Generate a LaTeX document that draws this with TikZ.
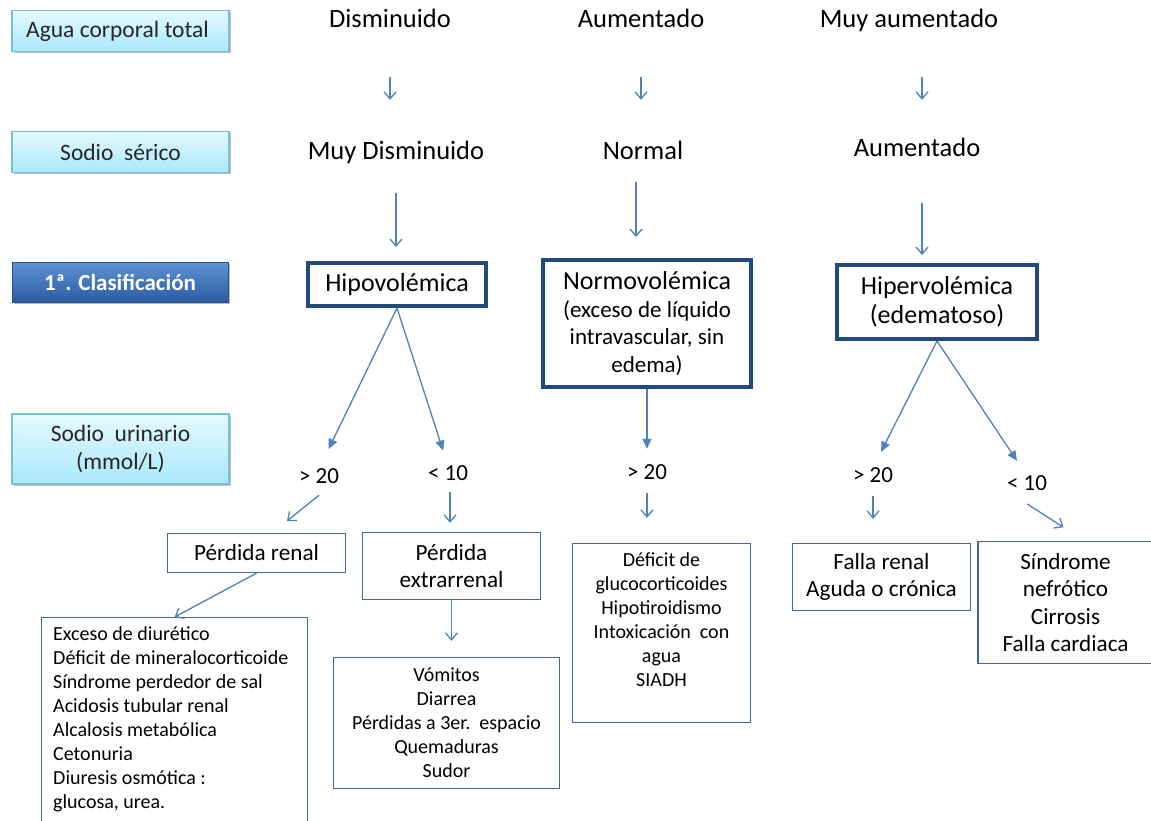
\documentclass[tikz,border=0pt]{standalone}
\usepackage{fontspec}
\setmainfont{Carlito}
\usetikzlibrary{arrows.meta,shadows}
\definecolor{arrblue}{HTML}{4F81BD}
\definecolor{thinline}{HTML}{41669A}
\definecolor{thickline}{HTML}{234A7D}
\definecolor{cyantop}{HTML}{E6F9FF}
\definecolor{cyanbot}{HTML}{A9E8FC}
\definecolor{cyanline}{HTML}{78BFD6}
\definecolor{darktop}{HTML}{5E93D6}
\definecolor{darkbot}{HTML}{2B5C9F}
\definecolor{darkline}{HTML}{24508C}
\newcommand\fsz[2]{\fontsize{#1}{#2}\selectfont}
\begin{document}
\begin{tikzpicture}[x=1pt,y=-1pt,
  shad/.style={drop shadow={shadow xshift=1.5pt, shadow yshift=-2pt, fill=black, opacity=0.25}},
  sidelab/.style={shad, draw=cyanline, line width=1.3pt, top color=cyantop, bottom color=cyanbot, minimum width=217pt, inner sep=0pt, align=center, font=\fsz{23.5}{28}, text=black!85},
  darklab/.style={shad, draw=darkline, line width=1pt, top color=darktop, bottom color=darkbot, minimum width=216pt, minimum height=40pt, inner sep=0pt, font=\fsz{23}{27}\bfseries, text=white},
  coltext/.style={anchor=base, inner sep=0pt, text height=17pt, text depth=5pt, font=\fsz{26.5}{30}},
  natext/.style={anchor=base, inner sep=0pt, text height=14pt, text depth=4pt, font=\fsz{23}{26}},
  volbox/.style={draw=thickline, line width=4pt, fill=white, align=center, inner sep=0pt, font=\fsz{26}{29}},
  thinbox/.style={draw=thinline, line width=1.3pt, align=center, inner sep=0pt, font=\fsz{23.2}{27.5}},
  listtext/.style={inner sep=0pt, font=\fsz{20}{24}},
  bigarr/.style={draw=arrblue, line width=1.3pt, -{Triangle[length=10pt,width=9pt]}},
  smallarr/.style={draw=arrblue, line width=1.3pt, -{Straight Barb[length=7pt,width=12pt]}}
]
\useasboundingbox (0,0) rectangle (1151,821);

% side labels
\node[sidelab, minimum height=41pt] (agua) at (120.5,31) {Agua corporal total\hspace*{6pt}};
\node[sidelab, minimum height=41pt] (sodio) at (120.5,152) {Sodio\ \ sérico};
\node[darklab] (clas) at (120,282) {1ª. Clasificación};
\node[sidelab, minimum height=70pt] (urin) at (120.5,449) {Sodio\ \ urinario\\(mmol/L)};

% column texts
\node[coltext] (dis) at (390,28) {Disminuido};
\node[coltext] (aum1) at (641,28) {Aumentado};
\node[coltext] (muyaum) at (909,28) {Muy aumentado};
\node[coltext] (muydis) at (396,160) {Muy Disminuido};
\node[coltext] (normal) at (643,160) {Normal};
\node[coltext] (aum2) at (917,157) {Aumentado};

% volume boxes
\node[volbox, minimum width=178pt, minimum height=43pt] (hipo) at (397,284.5) {Hipovolémica};
\node[volbox, font=\fsz{23}{27.5}, minimum width=208pt, minimum height=127pt] (normo) at (647,323.5) {{\fsz{26}{27.5}Normovolémica}\\(exceso de líquido\\intravascular, sin\\edema)};
\node[volbox, minimum width=200pt, minimum height=74pt] (hiper) at (937,302) {Hipervolémica\\(edematoso)};

% urinary sodium values
\node[natext] (g20a) at (319,483) {> 20};
\node[natext] (l10a) at (448,480) {< 10};
\node[natext] (g20b) at (647,479) {> 20};
\node[natext] (g20c) at (873,482) {> 20};
\node[natext] (l10c) at (1027,490) {< 10};

% result boxes
\node[thinbox, minimum width=178pt, minimum height=39pt] (renal) at (256.5,553) {Pérdida renal};
\node[thinbox, minimum width=178pt, minimum height=67pt] (extra) at (451.5,566) {Pérdida\\extrarrenal};
\node[thinbox, anchor=north west, minimum width=266pt, minimum height=240pt] (renalBox) at (41,617) {};
\node[listtext, anchor=north west, align=left] (renalList) at (53,626) {Exceso de diurético\\Déficit de mineralocorticoide\\Síndrome perdedor de sal\\Acidosis tubular renal\\Alcalosis metabólica\\Cetonuria\\Diuresis osmótica :\\glucosa, urea.};
\node[thinbox, font=\fsz{20}{24}, minimum width=226pt, minimum height=131pt] (extraList) at (446.5,723) {Vómitos\\Diarrea\\Pérdidas a 3er.\ \ espacio\\Quemaduras\\Sudor};
\node[thinbox, minimum width=178pt, minimum height=179pt] (deficitBox) at (661.5,633) {};
\node[listtext, anchor=north, align=center] (deficitText) at (661.5,552) {Déficit de\\glucocorticoides\\Hipotiroidismo\\Intoxicación\ \ con\\agua\\SIADH};
\node[thinbox, minimum width=178pt, minimum height=67pt] (falla) at (881.5,577) {Falla renal\\Aguda o crónica};
\node[thinbox, minimum width=175pt, minimum height=122pt] (sindrome) at (1065.5,602.5) {Síndrome\\nefrótico\\Cirrosis\\Falla cardiaca};

% arrows row 1
\draw[smallarr, shorten <=44pt, shorten >=43pt] (dis.south) -- (dis.south |- muydis.north);
\draw[smallarr, shorten <=44pt, shorten >=43pt] (aum1.south) -- (aum1.south |- normal.north);
\draw[smallarr, shorten <=44pt, shorten >=40pt] ([xshift=13pt]muyaum.south) -- ([xshift=13pt]muyaum.south |- aum2.north);
% arrows row 2
\draw[smallarr, shorten <=28pt, shorten >=14pt] (muydis.south) -- (muydis.south |- hipo.north);
\draw[smallarr, shorten <=17pt, shorten >=21pt] ([xshift=-7pt]normal.south) -- ([xshift=-7pt]normal.south |- normo.north);
\draw[smallarr, shorten <=41pt, shorten >=8pt] ([xshift=5pt]aum2.south) -- ([xshift=5pt]aum2.south |- hiper.north);
% arrows row 3
\draw[bigarr, shorten >=22pt] (hipo.south) -- (g20a.north);
\draw[bigarr, shorten >=16pt] (hipo.south) -- (l10a.north);
\draw[bigarr, shorten >=16pt] (normo.south) -- (normo.south |- g20b.north);
\draw[bigarr, shorten >=18pt] (hiper.south) -- (g20c.north);
\draw[bigarr, shorten >=18pt] (hiper.south) -- (l10c.north);
% arrows row 4
\draw[smallarr, shorten <=12.7pt, shorten >=19pt] ([xshift=10pt]g20a.south) -- ([xshift=15.7pt]renal.north);
\draw[smallarr, shorten <=8pt, shorten >=9pt] ([xshift=2pt]l10a.south) -- ([xshift=2pt]l10a.south |- extra.north);
\draw[smallarr, shorten <=10pt, shorten >=25pt] (g20b.south) -- (g20b.south |- deficitBox.north);
\draw[smallarr, shorten <=10pt, shorten >=24pt] (g20c.south) -- (g20c.south |- falla.north);
\draw[smallarr, shorten <=18pt, shorten >=25pt] ([xshift=-15pt]l10c.south) -- ([xshift=19pt]sindrome.north);
\draw[smallarr] (renal.south) -- (renalBox.north);
\draw[smallarr, shorten >=16pt] (extra.south) -- (extra.south |- extraList.north);
\end{tikzpicture}
\end{document}
